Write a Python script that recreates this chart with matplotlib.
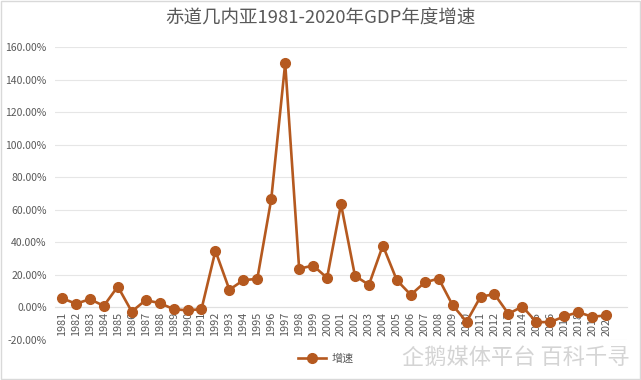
import matplotlib
matplotlib.use("Agg")
import matplotlib.pyplot as plt
from matplotlib.ticker import FuncFormatter, MultipleLocator

plt.rcParams['font.family'] = ['Noto Sans CJK SC', 'DejaVu Sans']

years = [str(y) for y in range(1981, 2021)]
growth = [5.7, 2.3, 5.1, 1.0, 12.9, -2.5, 4.5, 2.7, -1.0, -1.8,
          -1.0, 34.8, 10.9, 16.8, 17.6, 66.6, 150.2, 23.8, 25.8, 18.2,
          63.5, 19.5, 13.9, 38.1, 16.8, 7.8, 15.4, 17.8, 1.4, -8.8,
          6.6, 8.2, -3.9, 0.6, -9.0, -9.0, -5.5, -2.9, -5.7, -4.9]
series_name = "增速"
title = "赤道几内亚1981-2020年GDP年度增速"

color = '#B5591F'
txt = '#595959'

fig = plt.figure(figsize=(6.41, 3.80), dpi=100)
ax = fig.add_axes([55/641, 1-340/380, (627-55)/641, (340-47.3)/380])

x = list(range(len(years)))
ax.plot(x, growth, color=color, lw=1.9, marker='o', ms=7, label=series_name, zorder=3)

ax.set_xlim(-0.5, len(years) + 0.5)
ax.set_ylim(-20, 160)
ax.yaxis.set_major_locator(MultipleLocator(20))
ax.yaxis.set_major_formatter(FuncFormatter(lambda v, p: f"{v:.2f}%"))
ax.grid(axis='y', color='#e6e6e6', lw=0.8)
ax.set_axisbelow(True)
for s in ['top', 'right', 'left']:
    ax.spines[s].set_visible(False)
ax.spines['bottom'].set_position(('data', 0))
ax.spines['bottom'].set_color('#e0e0e0')
ax.set_xticks(x)
ax.set_xticklabels(years, rotation=90, fontsize=7.8, color=txt)
ax.tick_params(axis='x', length=0, pad=3)
ax.tick_params(axis='y', length=0, labelsize=7.5, labelcolor=txt, pad=6)

fig.text(0.5, 1-19/380, title, ha='center', va='center', fontsize=13.3, color=txt)

leg = fig.legend(loc='center', bbox_to_anchor=(326/641, 1-359/380), frameon=False,
                 fontsize=8, handlelength=2.5, handletextpad=0.5, labelcolor=txt)

fig.text(402/641, 1-357/380, "企鹅媒体平台 百科千寻", ha='left', va='center',
         fontsize=16, color='#d4d4d4')

fig.patches.append(plt.Rectangle((0.001, 0.002), 0.997, 0.995, transform=fig.transFigure,
                                 fill=False, edgecolor='#d9d9d9', lw=1))

fig.savefig('out.png', dpi=100)
